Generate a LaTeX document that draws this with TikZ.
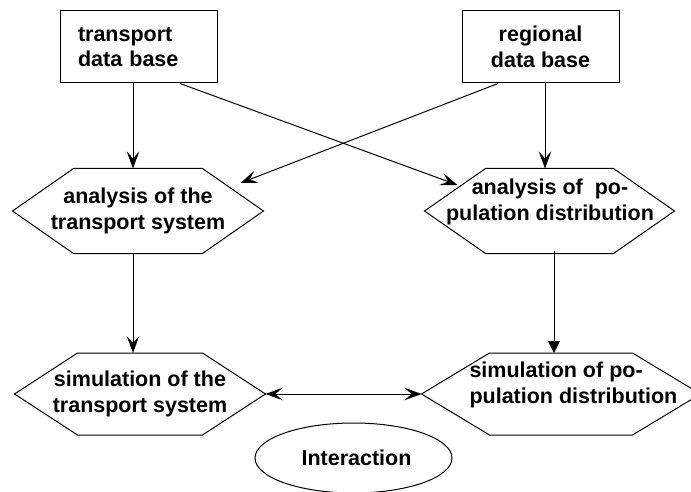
\documentclass[tikz,border=0pt]{standalone}
\usepackage{fontspec}
\setmainfont{Liberation Sans}
\usetikzlibrary{arrows.meta,shapes.geometric}
\begin{document}
\begin{tikzpicture}[x=1pt,y=-1pt,line width=1pt,
  lbl/.style={font=\fontsize{21.5}{25.5}\selectfont\bfseries,align=center,inner sep=0pt},
  dbbox/.style={draw,minimum width=157pt,minimum height=72pt,inner sep=0pt},
  hexbox/.style={minimum height=84pt,inner sep=0pt},
  arr/.style={-{Stealth[length=17pt,width=12.5pt,inset=7pt]}},
  tri/.style={-{Triangle[length=12pt,width=12pt]}},
  both/.style={{Stealth[length=17pt,width=12.5pt,inset=7pt]}-{Stealth[length=17pt,width=12.5pt,inset=7pt]}}
]
\useasboundingbox[fill=white] (0,0) rectangle (691,492);

% data bases
\node[dbbox,lbl,text width=121pt,align=left,inner xsep=18pt] (b1) at (138.5,47) {transport\\data base};
\node[dbbox,lbl] (b2) at (540.5,47) {regional\\data base};

% hexagon nodes
\node[hexbox,lbl,minimum width=250pt] (h1) at (138,211) {analysis of the\\transport system};
\node[hexbox,minimum width=249pt] (h2) at (549.5,211) {};
\node[lbl] (h2t) at (550,202) {analysis of\ \ po-\\pulation distribution};
\node[hexbox,lbl,minimum width=250pt,minimum height=81pt] (h3) at (140,394) {simulation of the\\transport system};
\node[hexbox,minimum width=278pt,minimum height=81pt] (h4) at (561,394) {};
\node[lbl,align=left,anchor=west] (h4t) at (469,385) {simulation of po-\\pulation distribution};

\foreach \n/\d in {h1/61,h2/61,h3/63,h4/68}
  \draw (\n.west) -- ([xshift=\d pt]\n.north west) -- ([xshift=-\d pt]\n.north east)
     -- (\n.east) -- ([xshift=-\d pt]\n.south east) -- ([xshift=\d pt]\n.south west) -- cycle;

% interaction
\node[draw,ellipse,lbl,minimum width=197pt,minimum height=70pt] (int) at (353.5,458) {\hspace*{6pt}Interaction};

% connectors
\draw[arr] ([xshift=-5.5pt]b1.south) -- ([xshift=-5.5pt]b1.south |- h1.north);
\draw[arr] ([xshift=4.5pt]b2.south) -- ([xshift=4.5pt]b2.south |- h2.north);
\draw[arr] ([xshift=41.5pt]b1.south) -- ([shift={(33,-26)}]h2.west);
\draw[arr] ([xshift=-42.5pt]b2.south) -- ([shift={(-23,-28)}]h1.east);
\draw[arr] ([xshift=-5pt]h1.south) -- ([xshift=-5pt]h1.south |- h3.north);
\draw[tri] ([xshift=4.5pt,yshift=3pt]h2.south) -- ([xshift=4.5pt]h2.south |- h4.north);
\draw[both] (h3.east) -- (h4.west);
\end{tikzpicture}
\end{document}
